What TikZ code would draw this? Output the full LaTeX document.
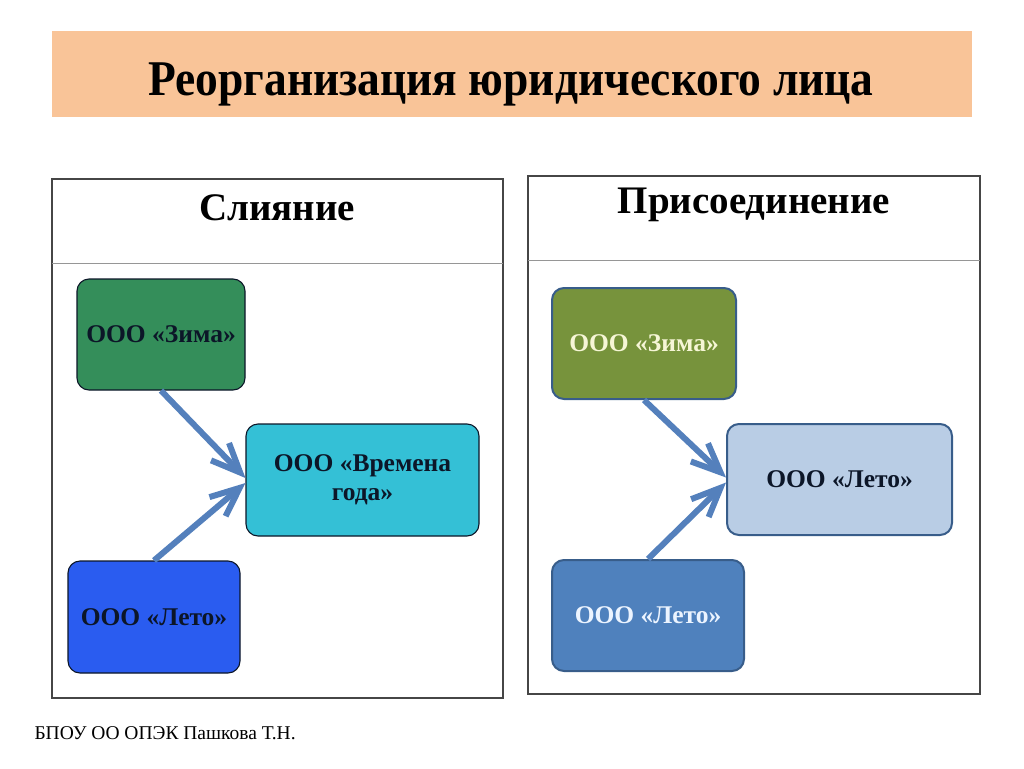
\documentclass[tikz,border=0pt]{standalone}
\usepackage{fontspec}
\setmainfont{Liberation Serif}
\usepackage{graphicx}
\usepackage{tikz}
\usetikzlibrary{arrows.meta, positioning}
\definecolor{peach}{RGB}{249,196,152}
\definecolor{framegray}{RGB}{70,70,70}
\definecolor{rulegray}{RGB}{150,150,150}
\definecolor{seagreen}{RGB}{52,142,90}
\definecolor{skycyan}{RGB}{52,192,214}
\definecolor{royalblue}{RGB}{42,92,240}
\definecolor{olivegreen}{RGB}{119,147,60}
\definecolor{paleblue}{RGB}{185,205,229}
\definecolor{steelblue}{RGB}{79,129,189}
\definecolor{edgeblue}{RGB}{56,93,138}
\definecolor{linkblue}{RGB}{84,128,188}
\definecolor{inkdark}{RGB}{12,22,40}
\definecolor{cream}{RGB}{246,246,214}
\definecolor{icewhite}{RGB}{236,244,255}
\tikzset{
  panel/.style={draw=framegray, line width=1.3pt},
  divider/.style={draw=rulegray, line width=0.9pt},
  header/.style={font=\fontsize{39}{41}\selectfont\bfseries},
  orgbox/.style={rectangle, rounded corners=12pt, align=center,
    font=\fontsize{25.5}{29.5}\selectfont\bfseries},
  leftbox/.style={orgbox, draw=inkdark, line width=1.1pt, text=inkdark},
  rightbox/.style={orgbox, draw=edgeblue, line width=2pt},
  link/.style={-{Straight Barb[length=29pt,width=25pt]}, line width=6pt, color=linkblue}
}

\begin{document}
\begin{tikzpicture}[x=1pt, y=-1pt]
  \useasboundingbox (0,0) rectangle (1024,768);

  % Title bar
  \node[fill=peach, minimum width=920, minimum height=86] (titlebar) at (512,74) {};
  \node[anchor=base] (title) at (511,95)
    {\scalebox{0.91}[1]{\fontsize{50}{50}\selectfont\bfseries Реорганизация юридического лица}};

  % Panels
  \draw[panel] (52,179) rectangle (503,698);
  \draw[divider] (52,263) -- (503,263);
  \draw[panel] (528,176) rectangle (980,694);
  \draw[divider] (528,260) -- (980,260);
  \node[header] (mergehdr) at (277,208) {Слияние};
  \node[header] (joinhdr) at (754,205) {Присоединение};

  % Merger
  \node[leftbox, fill=seagreen, minimum width=168, minimum height=111] (zimaA) at (161,334.5) {ООО «Зима»};
  \node[leftbox, fill=skycyan, minimum width=233, minimum height=112] (vremA) at (362.5,480) {ООО «Времена\\года»};
  \node[leftbox, fill=royalblue, minimum width=172, minimum height=112] (letoA) at (154,617) {ООО «Лето»};
  \draw[link] (zimaA.south) -- ([yshift=2pt]vremA.west);
  \draw[link] (letoA.north) -- ([yshift=-3pt]vremA.west);

  % Accession
  \node[rightbox, fill=olivegreen, text=cream, minimum width=184, minimum height=111] (zimaB) at (644,343.5) {ООО «Зима»};
  \node[rightbox, fill=paleblue, text=inkdark, minimum width=225, minimum height=111] (letoB) at (839.5,479.5) {ООО «Лето»};
  \node[rightbox, fill=steelblue, text=icewhite, minimum width=192, minimum height=111] (letoC) at (648,615.5) {ООО «Лето»};
  \draw[link] (zimaB.south) -- ([yshift=2pt]letoB.west);
  \draw[link] (letoC.north) -- ([yshift=-3pt]letoB.west);

  % Footer
  \node[anchor=west, font=\fontsize{19.5}{22}\selectfont] (credit) at (31,733) {БПОУ ОО ОПЭК Пашкова Т.Н.};
\end{tikzpicture}
\end{document}
